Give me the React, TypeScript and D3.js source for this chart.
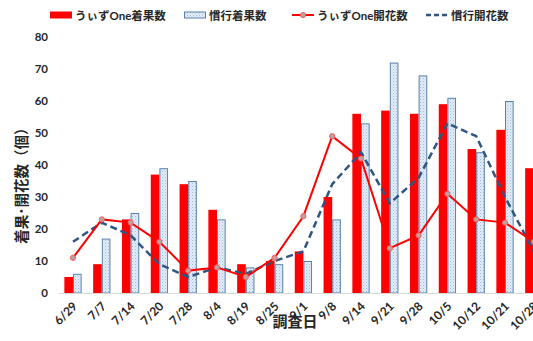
import * as d3 from 'd3';
import React from 'react';

const dates: string[] = [
    '6/29', '7/7', '7/14', '7/20', '7/28', '8/4', '8/19', '8/25', '9/1',
    '9/8', '9/14', '9/21', '9/28', '10/5', '10/12', '10/21', '10/28',
];
const withOneFruit: number[] = [5, 9, 23, 37, 34, 26, 9, 10, 13, 30, 56, 57, 56, 59, 45, 51, 39];
const usualFruit: number[] = [6, 17, 25, 39, 35, 23, 8, 9, 10, 23, 53, 72, 68, 61, 44, 60, 50];
const withOneFlower: number[] = [11, 23, 22, 16, 7, 8, 5, 11, 24, 49, 42, 14, 18, 31, 23, 22, 16];
const usualFlower: number[] = [16, 22, 18, 9, 5, 8, 6, 10, 13, 34, 44, 28, 36, 53, 49, 30, 13];
const yTicks: number[] = [0, 10, 20, 30, 40, 50, 60, 70, 80];

const legendNames: string[] = ['うぃずOne着果数', '慣行着果数', 'うぃずOne開花数', '慣行開花数'];

const font = "Lato, 'Noto Sans CJK JP', sans-serif";

const App = (): React.ReactElement => {
    const width = 533;
    const height = 341;
    const chartRef = React.useRef<SVGSVGElement>(null);

    React.useEffect(() => {
        const svg = d3.select(chartRef.current);
        svg.selectAll('*').remove();

        // Scales. The plot runs past the right edge, like the original.
        const xScale = d3.scaleBand<string>().domain(dates).range([58.6, 548.2]).paddingInner(0.4).paddingOuter(0.2);
        const yScale = d3.scaleLinear().domain([0, 80]).range([293, 37]);
        const half = xScale.bandwidth() / 2;
        const cx = (d: string) => (xScale(d) as number) + half;

        // Dotted pattern for the blue bars.
        const defs = svg.append('defs');
        const pat = defs.append('pattern').attr('id', 'dots').attr('width', 3).attr('height', 3).attr('patternUnits', 'userSpaceOnUse');
        pat.append('rect').attr('width', 3).attr('height', 3).attr('fill', '#e4edf8');
        pat.append('rect').attr('x', 0).attr('y', 0).attr('width', 1).attr('height', 1).attr('fill', '#9dbbe0');
        pat.append('rect').attr('x', 1.5).attr('y', 1.5).attr('width', 1).attr('height', 1).attr('fill', '#b6cce8');

        // Y tick labels.
        svg.append('g')
            .selectAll('text')
            .data(yTicks)
            .enter()
            .append('text')
            .attr('x', 48)
            .attr('y', (d) => yScale(d) + 4)
            .attr('text-anchor', 'end')
            .attr('font-family', font)
            .attr('font-weight', 'bold')
            .attr('font-size', 11.5)
            .attr('fill', '#262626')
            .text((d) => d);

        // Bars.
        svg.append('g')
            .selectAll('rect')
            .data(dates)
            .enter()
            .append('rect')
            .attr('x', (d) => xScale(d) as number)
            .attr('y', (d, i) => yScale(withOneFruit[i]))
            .attr('width', half)
            .attr('height', (d, i) => 293 - yScale(withOneFruit[i]))
            .attr('fill', '#ff0000');

        svg.append('g')
            .selectAll('rect')
            .data(dates)
            .enter()
            .append('rect')
            .attr('x', (d) => cx(d) + 0.5)
            .attr('y', (d, i) => yScale(usualFruit[i]) + 0.5)
            .attr('width', half - 1)
            .attr('height', (d, i) => 293 - yScale(usualFruit[i]) - 0.5)
            .attr('fill', 'url(#dots)')
            .attr('stroke', '#5b82ad')
            .attr('stroke-width', 1);

        // X axis line.
        svg.append('line')
            .attr('x1', 58.6)
            .attr('x2', 548)
            .attr('y1', 293.5)
            .attr('y2', 293.5)
            .attr('stroke', '#d9d9d9')
            .attr('stroke-width', 1);

        // Lines.
        const flowerLine = (vals: number[]) =>
            d3.line<string>()
                .x((d) => cx(d))
                .y((d, i) => yScale(vals[i]));

        svg.append('path')
            .attr('d', flowerLine(usualFlower)(dates))
            .attr('fill', 'none')
            .attr('stroke', '#2f5582')
            .attr('stroke-width', 2.5)
            .attr('stroke-linejoin', 'round')
            .attr('stroke-dasharray', '7,4');

        svg.append('path')
            .attr('d', flowerLine(withOneFlower)(dates))
            .attr('fill', 'none')
            .attr('stroke', '#ff0000')
            .attr('stroke-width', 2);

        svg.append('g')
            .selectAll('circle')
            .data(dates)
            .enter()
            .append('circle')
            .attr('cx', (d) => cx(d))
            .attr('cy', (d, i) => yScale(withOneFlower[i]))
            .attr('r', 2.6)
            .attr('fill', '#b8a4a4')
            .attr('stroke', '#ff5a5a')
            .attr('stroke-width', 1);

        // X tick labels, rotated.
        svg.append('g')
            .selectAll('text')
            .data(dates)
            .enter()
            .append('text')
            .attr('transform', (d) => 'translate(' + (cx(d) + 5) + ',307) rotate(-45)')
            .attr('text-anchor', 'end')
            .attr('font-family', font)
            .attr('font-weight', 'bold')
            .attr('font-size', 12)
            .attr('fill', '#262626')
            .text((d) => d);

        // Axis titles.
        svg.append('text')
            .attr('x', 295)
            .attr('y', 327)
            .attr('text-anchor', 'middle')
            .attr('font-family', font)
            .attr('font-weight', 'bold')
            .attr('font-size', 15)
            .attr('fill', '#262626')
            .text('調査日');

        svg.append('text')
            .attr('transform', 'translate(27,182) rotate(-90)')
            .attr('text-anchor', 'middle')
            .attr('font-family', font)
            .attr('font-weight', 'bold')
            .attr('font-size', 14.5)
            .attr('fill', '#262626')
            .text('着果･開花数（個）');

        // Legend.
        const legendX = [50, 184, 292, 426];
        const lg = svg.append('g').selectAll('g').data(legendNames).enter().append('g')
            .attr('transform', (d, i) => 'translate(' + legendX[i] + ',15)');
        lg.append('text')
            .attr('x', 25)
            .attr('y', 4.5)
            .attr('font-family', font)
            .attr('font-weight', 'bold')
            .attr('font-size', 11.5)
            .attr('fill', '#262626')
            .text((d) => d);
        lg.filter((d, i) => i === 0).append('rect')
            .attr('x', 0).attr('y', -3.5).attr('width', 22).attr('height', 7).attr('fill', '#ff0000');
        lg.filter((d, i) => i === 1).append('rect')
            .attr('x', 0.5).attr('y', -3).attr('width', 21).attr('height', 6)
            .attr('fill', 'url(#dots)').attr('stroke', '#5b82ad');
        lg.filter((d, i) => i === 2).append('line')
            .attr('x1', 0).attr('x2', 22).attr('y1', 0).attr('y2', 0)
            .attr('stroke', '#ff0000').attr('stroke-width', 2);
        lg.filter((d, i) => i === 2).append('circle')
            .attr('cx', 11).attr('cy', 0).attr('r', 2.6)
            .attr('fill', '#b8a4a4').attr('stroke', '#ff5a5a');
        lg.filter((d, i) => i === 3).append('line')
            .attr('x1', 0).attr('x2', 22).attr('y1', 0).attr('y2', 0)
            .attr('stroke', '#2f5582').attr('stroke-width', 2.5).attr('stroke-dasharray', '5,3');
    }, [chartRef]);

    return (
        <div style={{ position: 'absolute', left: 0, top: 0, width, height, overflow: 'hidden', background: '#fff' }}>
            <svg ref={chartRef} width={width} height={height}></svg>
        </div>
    );
};

export default App;
